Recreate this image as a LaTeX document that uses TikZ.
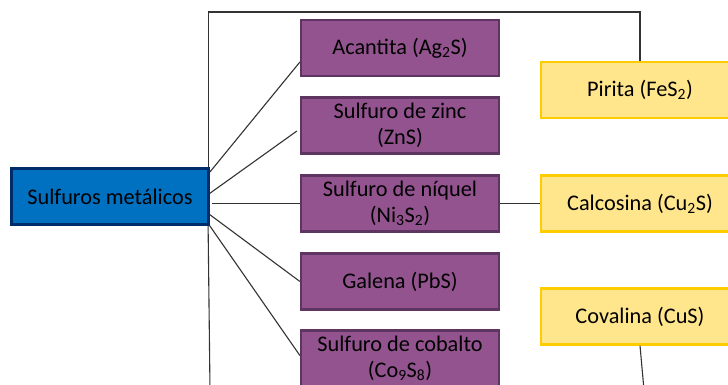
\documentclass[tikz,border=0pt]{standalone}
\usepackage{fontspec}
\setmainfont{Carlito}
\usetikzlibrary{calc}
\definecolor{bluefill}{HTML}{0070C0}
\definecolor{blueedge}{HTML}{002C6A}
\definecolor{purplefill}{HTML}{92538F}
\definecolor{purpleedge}{HTML}{5E3560}
\definecolor{yellowfill}{HTML}{FFE68C}
\definecolor{yellowedge}{HTML}{FFCC00}
\definecolor{linegray}{HTML}{333333}
\tikzset{
  x=1pt, y=-1pt,
  base/.style={rectangle, inner sep=0pt, align=center, font=\fontsize{22.3}{26}\selectfont, text=black, line width=2.2pt},
  rootbox/.style={base, fill=bluefill, draw=blueedge, minimum width=197pt, minimum height=56pt},
  mineral/.style={base, fill=purplefill, draw=purpleedge, minimum width=198pt, minimum height=56pt},
  goldbox/.style={base, fill=yellowfill, draw=yellowedge, minimum width=198pt, minimum height=56pt},
  conn/.style={draw=linegray, line width=1.1pt}
}
\begin{document}
\begin{tikzpicture}
\clip (0,0) rectangle (728,385);
\useasboundingbox (0,0) rectangle (728,385);
\fill[white] (0,0) rectangle (728,385);
\coordinate (tl) at (208,12);
\coordinate (tr) at (640,12);
\coordinate (bl) at (210,390);
\coordinate (br) at (644,390);

\node[rootbox] (root) at (110,196.5) {Sulfuros metálicos};
\node[mineral] (ac) at (400,48) {Acantita (Ag\textsubscript{2}S)};
\node[mineral] (zn) at (400,125.5) {Sulfuro de zinc\\(ZnS)};
\node[mineral] (ni) at (400,203.5) {Sulfuro de níquel\\(Ni\textsubscript{3}S\textsubscript{2})};
\node[mineral] (pb) at (400,281.5) {Galena (PbS)};
\node[mineral] (co) at (400,358.5) {Sulfuro de cobalto\\(Co\textsubscript{9}S\textsubscript{8})};
\node[goldbox] (py) at (640,90) {Pirita (FeS\textsubscript{2})};
\node[goldbox] (cc) at (640,203.5) {Calcosina (Cu\textsubscript{2}S)};
\node[goldbox] (cv) at (640,316.5) {Covalina (CuS)};

\draw[conn] (root.north east) ++(-1.5,0) coordinate (rtop) (tl -| rtop) -- (rtop);
\draw[conn] (tl -| rtop) -- (tr) -- (py.north);
\draw[conn] ($(root.north east)+(0,5)$) -- ($(ac.west)+(0,14)$);
\draw[conn] ($(root.east)+(0,-3)$) -- ($(zn.west)+(-3,5.5)$);
\draw[conn] ($(root.east)+(2,7)$) -- (ni.west);
\draw[conn] ($(root.east)+(0,18)$) -- (pb.west);
\draw[conn] (root.south east) -- ($(co.west)+(0,-3)$);
\draw[conn] ($(root.south east)+(-1.5,0)$) -- (bl);
\draw[conn] (ni.east) -- (cc.west);
\draw[conn] (cv.south) -- (br);
\end{tikzpicture}
\end{document}
